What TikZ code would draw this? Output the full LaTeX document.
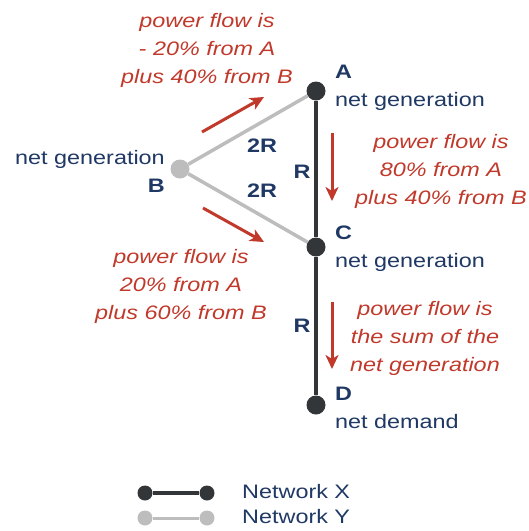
\documentclass[tikz,border=0pt]{standalone}
\usepackage{fontspec}
\setmainfont{Liberation Sans}[FakeStretch=1.2]
\usetikzlibrary{arrows.meta,positioning}
\definecolor{netx}{HTML}{333638}
\definecolor{nety}{HTML}{BDBDBD}
\definecolor{flowred}{HTML}{C0392B}
\definecolor{navy}{HTML}{1F3864}

\begin{document}
\begin{tikzpicture}[x=1pt,y=-1pt,
    every node/.style={font=\fontsize{19.5}{28}\selectfont},
    bus/.style={circle,fill=#1,inner sep=0pt,minimum size=19pt},
    legdot/.style={circle,fill=#1,inner sep=0pt,minimum size=15pt},
    xline/.style={draw=netx,line width=4pt},
    yline/.style={draw=nety,line width=3.5pt},
    busname/.style={navy,inner sep=0pt,align=left},
    rlabel/.style={navy,inner sep=0pt,font=\fontsize{19.5}{28}\selectfont\bfseries},
    flowtext/.style={flowred,inner sep=0pt,align=center,font=\fontsize{19.5}{28}\selectfont\itshape},
    flow/.style={flowred,line width=3pt,-{Stealth[length=14pt,width=13pt,inset=4pt]}}]
  \useasboundingbox (0,0) rectangle (529,531);

  % buses
  \node[bus=netx] (A) at (316,91)  {};
  \node[bus=netx] (C) at (316,247) {};
  \node[bus=netx] (D) at (316,405) {};
  \node[bus=nety] (B) at (180,169) {};

  % lines
  \path[xline]
    (A) edge node[rlabel,midway,shift={(-14,3)}] {R} (C)
    (C) edge node[rlabel,midway,shift={(-14,0)}] {R} (D);
  \path[yline]
    (B) edge node[rlabel,midway,shift={(14,16)}] {2R} (A)
    (B) edge node[rlabel,midway,shift={(14,-17)}] {2R} (C);

  % bus names
  \node[busname,anchor=north west] (lA) at (335,65)  {\textbf{A}\\net generation};
  \node[busname,anchor=north west] (lC) at (335,226) {\textbf{C}\\net generation};
  \node[busname,anchor=north west] (lD) at (335,387) {\textbf{D}\\net demand};
  \node[busname,align=right,anchor=north east] (lB) at (165,150) {net generation\\\textbf{B}};

  % power flows
  \node[flowtext] (fBA) at (207,50)  {power flow is\\- 20\% from A\\plus 40\% from B};
  \node[flowtext] (fAC) at (441,171) {power flow is\\80\% from A\\plus 40\% from B};
  \node[flowtext] (fBC) at (181,286) {power flow is\\20\% from A\\plus 60\% from B};
  \node[flowtext] (fCD) at (425,338) {power flow is\\the sum of the\\net generation};

  \coordinate (f1s) at (202,132); \coordinate (f1e) at (264,97);
  \coordinate (f2s) at (203,208); \coordinate (f2e) at (264,242);
  \coordinate (f3s) at (332,133); \coordinate (f3e) at (332,201);
  \coordinate (f4s) at (332,302); \coordinate (f4e) at (332,369);
  \draw[flow] (f1s) -- (f1e);
  \draw[flow] (f2s) -- (f2e);
  \draw[flow] (f3s) -- (f3e);
  \draw[flow] (f4s) -- (f4e);

  % legend
  \node[legdot=netx] (x1) at (145,493) {};
  \node[legdot=netx] (x2) at (207,493) {};
  \node[legdot=nety] (y1) at (145,518) {};
  \node[legdot=nety] (y2) at (207,518) {};
  \draw[xline,line width=3.5pt] (x1) -- (x2);
  \draw[yline,line width=3pt] (y1) -- (y2);
  \node[busname,anchor=base west] (lX) at (242,498) {Network X};
  \node[busname,anchor=base west] (lY) at (242,523) {Network Y};
\end{tikzpicture}
\end{document}
